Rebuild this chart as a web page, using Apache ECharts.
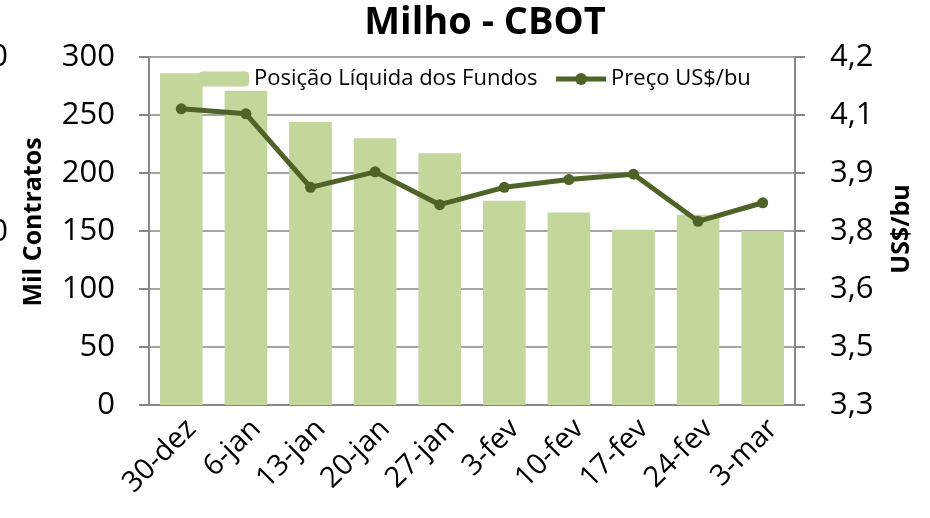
<!DOCTYPE html>
<html>
<head>
<meta charset="utf-8">
<script src="https://cdn.jsdelivr.net/npm/echarts@6/dist/echarts.min.js"></script>
<style>
  html, body { margin: 0; padding: 0; background: #fff; }
  #chart { width: 930px; height: 518px; }
</style>
</head>
<body>
<div id="chart"></div>
<script>
const categories = ['30-dez', '6-jan', '13-jan', '20-jan', '27-jan', '3-fev', '10-fev', '17-fev', '24-fev', '3-mar']
const posicaoFundos = [286, 271, 244, 230, 217, 176, 166, 151, 164, 150]
const precoUsdBu = [4.066, 4.053, 3.863, 3.903, 3.818, 3.863, 3.883, 3.897, 3.775, 3.823]

const FONT = '"Open Sans", "DejaVu Sans", sans-serif'
const AXIS_GRAY = '#868686'
const LINE_GREEN = '#4F6228'

const chart = echarts.init(document.getElementById('chart'))

// 4.05 -> "4,1", 3.45 -> "3,5" (arredonda como o Excel)
const fmtBr = v => (Math.round(v * 10 + 1e-6) / 10).toFixed(1).replace('.', ',')

chart.setOption({
  animation: false,
  textStyle: { fontFamily: FONT },
  title: {
    text: 'Milho - CBOT', left: 480, top: -1, textAlign: 'center',
    textStyle: { fontSize: 38, fontWeight: 'bold', color: '#000', fontFamily: FONT },
  },
  legend: {
    left: 194, top: 63, itemGap: 16, itemWidth: 50, itemHeight: 15,
    textStyle: { fontSize: 22, color: '#000', fontFamily: FONT },
    data: [
      { name: 'Posição Líquida dos Fundos' },
      { name: 'Preço US$/bu', lineStyle: { width: 5, color: LINE_GREEN } },
    ],
  },
  grid: { left: 149, right: 135, top: 57, bottom: 113 },
  xAxis: {
    type: 'category', data: categories,
    axisLine: { lineStyle: { color: AXIS_GRAY, width: 2 } },
    axisTick: { length: 9, lineStyle: { color: AXIS_GRAY, width: 2 } },
    axisLabel: { rotate: 45, fontSize: 29, color: '#000', margin: 9, verticalAlign: 'top' },
  },
  yAxis: [
    {
      type: 'value', min: 0, max: 300, interval: 50,
      axisLine: { show: true, lineStyle: { color: AXIS_GRAY, width: 2 } },
      axisTick: { show: true, length: 10, lineStyle: { color: AXIS_GRAY, width: 2 } },
      axisLabel: { fontSize: 31, color: '#000', margin: 34 },
      splitLine: { lineStyle: { color: AXIS_GRAY, width: 1.5 } },
    },
    {
      type: 'value', min: 3.3, max: 4.2, interval: 0.15,
      axisLine: { show: true, lineStyle: { color: AXIS_GRAY, width: 2 } },
      axisTick: { show: true, length: 10, lineStyle: { color: AXIS_GRAY, width: 2 } },
      axisLabel: { fontSize: 31, color: '#000', margin: 35, formatter: fmtBr },
      splitLine: { show: false },
    },
  ],
  graphic: [
    // pedaços do gráfico vizinho, cortados na borda
    { type: 'text', x: 8, y: 57, style: { text: '300', fontSize: 31, fill: '#000', fontFamily: FONT, align: 'right', verticalAlign: 'middle' } },
    { type: 'text', x: 8, y: 232, style: { text: '150', fontSize: 31, fill: '#000', fontFamily: FONT, align: 'right', verticalAlign: 'middle' } },
    {
      type: 'text', x: 34, y: 222, rotation: Math.PI / 2,
      style: { text: 'Mil Contratos', fontSize: 25, fontWeight: 'bold', fill: '#000', fontFamily: FONT, align: 'center', verticalAlign: 'middle' },
    },
    {
      type: 'text', x: 902, y: 229, rotation: Math.PI / 2,
      style: { text: 'US$/bu', fontSize: 25, fontWeight: 'bold', fill: '#000', fontFamily: FONT, align: 'center', verticalAlign: 'middle' },
    },
  ],
  series: [
    {
      name: 'Posição Líquida dos Fundos', type: 'bar', yAxisIndex: 0,
      data: posicaoFundos, barWidth: '66%',
      itemStyle: { color: '#C3D69B' },
    },
    {
      name: 'Preço US$/bu', type: 'line', yAxisIndex: 1,
      data: precoUsdBu, symbol: 'circle', symbolSize: 11,
      lineStyle: { color: LINE_GREEN, width: 5 },
      itemStyle: { color: LINE_GREEN },
    },
  ],
})
</script>
</body>
</html>
